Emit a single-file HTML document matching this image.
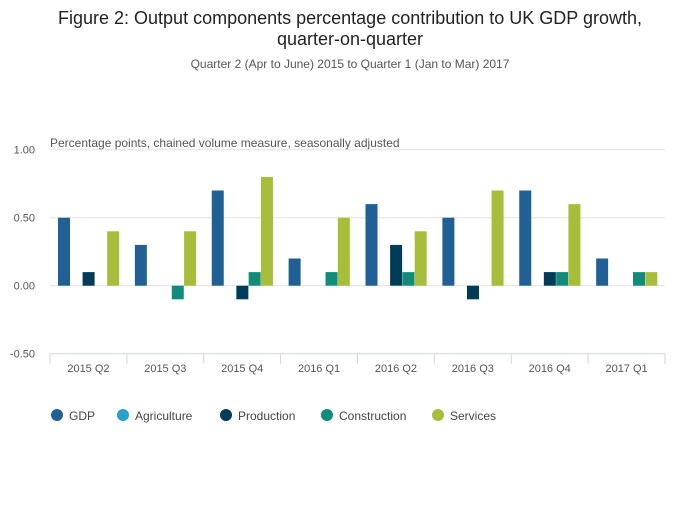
<!DOCTYPE html>
<html><head><meta charset="utf-8"><style>
body{margin:0;background:#fff;font-family:"Liberation Sans",sans-serif;}
svg text{font-family:"Liberation Sans",sans-serif;}
</style></head><body>
<svg width="700" height="502" id="c">
<text x="350" y="24" text-anchor="middle" font-size="18" fill="#222">Figure 2: Output components percentage contribution to UK GDP growth,</text>
<text x="350" y="45" text-anchor="middle" font-size="18" fill="#222">quarter-on-quarter</text>
<text x="350" y="68" text-anchor="middle" font-size="12" fill="#555">Quarter 2 (Apr to June) 2015 to Quarter 1 (Jan to Mar) 2017</text>
<text x="50" y="147" font-size="12" fill="#555">Percentage points, chained volume measure, seasonally adjusted</text>
<g id="grid"></g><g id="bars"></g><g id="xaxis"></g><g id="legend"></g>
</svg>
<script>
const categories=["2015 Q2","2015 Q3","2015 Q4","2016 Q1","2016 Q2","2016 Q3","2016 Q4","2017 Q1"];
const seriesNames=["GDP","Agriculture","Production","Construction","Services"];
const gdp=[0.5,0.3,0.7,0.2,0.6,0.5,0.7,0.2];
const agriculture=[0,0,0,0,0,0,0,0];
const production=[0.1,0,-0.1,0,0.3,-0.1,0.1,0];
const construction=[0,-0.1,0.1,0.1,0.1,0,0.1,0.1];
const services=[0.4,0.4,0.8,0.5,0.4,0.7,0.6,0.1];
const yTicks=[1,0.5,0,-0.5];
const yTickLabels=["1.00","0.50","0.00","-0.50"];
const colors=["#206095","#27a0cc","#003c57","#118c7b","#a8bd3a"];
const series=[gdp,agriculture,production,construction,services];
const NS="http://www.w3.org/2000/svg";
const x0=50,x1=665,gw=(x1-x0)/categories.length;
const y=v=>285.7-v*136;
function mk(t,a,p){const e=document.createElementNS(NS,t);for(const k in a)e.setAttribute(k,a[k]);p.appendChild(e);return e;}
const grid=document.getElementById('grid');
yTicks.forEach((v,i)=>{
 const l=mk('line',{x1:x0,x2:x1,y1:y(v),y2:y(v),stroke:v===-0.5?'#ccd6e6':'#e2e2e2','stroke-width':1},grid);
 
 
 const t=mk('text',{x:35,y:y(v)+4,'text-anchor':'end','font-size':11,fill:'#555'},grid);
 t.textContent=yTickLabels[i];
 
 
});
const bars=document.getElementById('bars');
categories.forEach((c,i)=>{
 series.forEach((s,j)=>{
  const v=s[i];if(v===0)return;
  const bx=x0+i*gw+8+j*12.3;
  const r=mk('rect',{x:bx,y:Math.min(y(v),y(0)),width:12,height:Math.abs(y(v)-y(0)),fill:colors[j]},bars);
  
  
 });
});
const xa=document.getElementById('xaxis');
for(let i=0;i<=categories.length;i++){
 const t=mk('line',{x1:x0+i*gw,x2:x0+i*gw,y1:y(-0.5),y2:y(-0.5)+10,stroke:'#ccd6e6'},xa);
 
 
}
categories.forEach((c,i)=>{
 const t=mk('text',{x:x0+i*gw+gw/2,y:372,'text-anchor':'middle','font-size':11,fill:'#555'},xa);
 t.textContent=c;
 
 
});
const lg=document.getElementById('legend');
const lx=[57,123,226,327,438];
seriesNames.forEach((n,j)=>{
 const g=mk('g',{},lg);
 
 
 mk('circle',{cx:lx[j],cy:415,r:6,fill:colors[j]},g);
 const t=mk('text',{x:lx[j]+12,y:420,'font-size':12,fill:'#444'},g);
 t.textContent=n;
});
</script>
</body></html>
